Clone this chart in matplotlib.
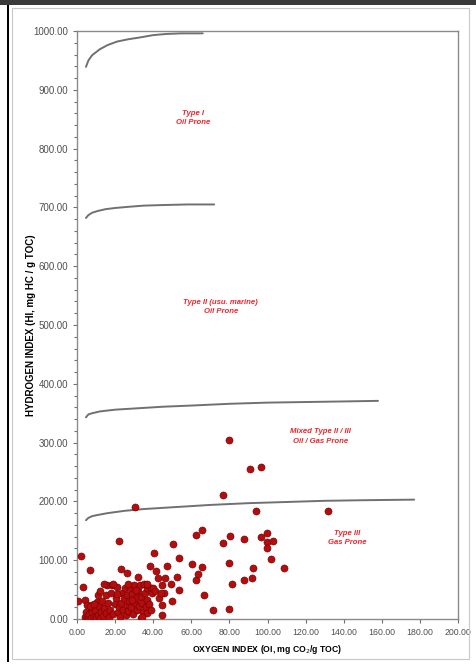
import numpy as np
import matplotlib.pyplot as plt
from matplotlib.ticker import MultipleLocator, FormatStrFormatter
from matplotlib.patches import Rectangle

# Sample points: oxygen index (OI) and hydrogen index (HI)
oi_values = [0.4, 2.3, 3.1, 4.4, 7.0, 4.2, 5.9, 8.1, 10.2, 5.4, 7.7, 10.7, 4.7, 8.1,
             5, 6, 6.5, 7.5, 8, 9, 9.5, 10, 11, 11.5, 12, 12.5, 13, 13.5, 14, 15, 15,
             16, 16.5, 17, 17.5, 18, 18.5, 19, 20, 20.5, 21, 21.5, 22, 22.2, 22.5, 23,
             23.3, 23.5, 24, 24.5, 25, 25.5, 26, 26, 26.5, 27, 27.5, 28, 28.5, 29, 29.5,
             30, 30.4, 30.5, 31, 31.5, 32, 32, 32.5, 33, 33.4, 33.5, 34, 34.5, 35, 35.5,
             36, 36.5, 36.7, 37, 38, 38.5, 39, 39.5, 40.4, 41.6, 42.7, 44.4, 44.4, 44.4,
             45.5, 46.4, 47.4, 49.5, 49.7, 50.6, 52.3, 53.5, 53.5,
             7, 9, 11, 12, 14, 19, 21, 27, 29, 31, 34, 37, 39, 40, 41, 43, 44,
             60.4, 62.5, 62.5, 63.7, 65.6, 65.6, 66.7, 71.6, 76.6, 76.6, 79.6, 79.6, 79.6,
             80.3, 81.5, 87.5, 87.5, 90.8, 91.9, 92.5, 93.8, 96.6, 96.6, 99.7, 99.7, 99.7,
             101.7, 102.9, 108.8, 131.8]
hi_values = [31, 107, 54, 32, 83, 4, 3, 4, 3, 24, 24, 29, 12, 15,
             5, 2, 8, 1, 12, 4, 16, 1, 7, 22, 2, 12, 30, 5, 18, 40, 10,
             58, 28, 3, 15, 45, 57, 8, 25, 36, 55, 12, 20, 133, 3, 28,
             85, 45, 16, 35, 52, 6, 79, 24, 40, 13, 30, 52, 20, 42, 8,
             58, 191, 27, 36, 15, 72, 48, 22, 57, 1, 38, 28, 12, 60, 45,
             20, 52, 10, 33, 25, 90, 52, 45, 113, 82, 69, 57, 24, 6,
             45, 70, 90, 60, 31, 128, 72, 104, 49,
             22, 26, 40, 48, 60, 60, 42, 60, 33, 50, 3, 60, 15, 52, 48, 35, 45,
             94, 143, 67, 76, 151, 88, 41, 15, 211, 130, 304, 96, 17,
             141, 60, 136, 67, 255, 70, 87, 184, 259, 140, 146, 131, 121,
             102, 133, 87, 184]

# Kerogen type boundary curves
type1_oi = [4.7, 6, 8, 12, 16, 21, 27, 33, 40, 47, 55, 66]
type1_hi = [939, 950, 959, 969, 976, 982, 986, 989, 993, 995, 996, 996]
type2_oi = [4.7, 6, 8, 11, 15, 20, 27, 35, 45, 58, 72]
type2_hi = [682, 687, 691, 694, 697, 699, 701, 703, 704, 705, 705]
mixed_oi = [4.7, 6, 8, 12, 20, 30, 45, 60, 80, 100, 120, 140, 158]
mixed_hi = [343, 348, 350, 353, 356, 358, 361, 363, 366, 368, 369, 370, 371]
type3_oi = [4.7, 6, 8, 11, 16, 25, 35, 50, 70, 90, 110, 130, 150, 177]
type3_hi = [168, 172, 175, 177, 180, 184, 187, 190, 194, 197, 199, 201, 202, 203]

# Region labels: text, x, y
region_text = ["Type I\nOil Prone", "Type II (usu. marine)\nOil Prone",
               "Mixed Type II / III\nOil / Gas Prone", "Type III\nGas Prone"]
region_x = [61, 75.5, 128, 142]
region_y = [852, 531, 310, 138]

plt.rcParams['font.family'] = ['Liberation Sans', 'DejaVu Sans']

fig = plt.figure(figsize=(4.76, 6.65), dpi=100, facecolor='white')

# Screenshot-like frame around the chart
fig.patches.append(Rectangle((0, 1 - 5 / 665), 1, 5 / 665, transform=fig.transFigure,
                             facecolor='#3a3a3a', edgecolor='none'))
fig.patches.append(Rectangle((7 / 476, 3 / 665), 2 / 476, 657 / 665, transform=fig.transFigure,
                             facecolor='black', edgecolor='none'))
fig.patches.append(Rectangle((12 / 476, 6 / 665), 457 / 476, 651 / 665, transform=fig.transFigure,
                             facecolor='none', edgecolor='#c8c8c8', linewidth=0.8))

ax = fig.add_axes([77 / 476, 46 / 665, 381 / 476, 588 / 665])

for cx, cy in [(type1_oi, type1_hi), (type2_oi, type2_hi), (mixed_oi, mixed_hi), (type3_oi, type3_hi)]:
    ax.plot(cx, cy, color='#707070', linewidth=1.4, solid_capstyle='round')

ax.scatter(oi_values, hi_values, s=26, color='#b50d0d', edgecolors='#6a0000',
           linewidths=0.4, zorder=3)

for txt, tx, ty in zip(region_text, region_x, region_y):
    ax.text(tx, ty, txt, color='#e8282e', fontsize=5.6, fontweight='bold',
            fontstyle='italic', ha='center', va='center', linespacing=1.5)

ax.set_xlim(0, 200)
ax.set_ylim(0, 1000)
ax.xaxis.set_major_locator(MultipleLocator(20))
ax.yaxis.set_major_locator(MultipleLocator(100))
ax.yaxis.set_minor_locator(MultipleLocator(20))
ax.xaxis.set_major_formatter(FormatStrFormatter('%.2f'))
ax.yaxis.set_major_formatter(FormatStrFormatter('%.2f'))
ax.tick_params(axis='both', which='major', labelsize=6.3, labelcolor='#505050',
               color='#707070', length=3, width=0.8, direction='out')
ax.tick_params(axis='y', which='major', labelsize=7)
ax.tick_params(axis='y', which='minor', color='#707070', length=2, width=0.8, direction='out')

for sp in ax.spines.values():
    sp.set_color('#8a8a8a')
    sp.set_linewidth(1.0)

ax.set_xlabel('OXYGEN INDEX (OI, mg CO$_2$/g TOC)', fontsize=6.2, fontweight='bold', labelpad=4)
ax.set_ylabel('HYDROGEN INDEX (HI, mg HC / g TOC)', fontsize=7, fontweight='bold', labelpad=-2)

fig.savefig('out.png', dpi=100, facecolor=fig.get_facecolor())
